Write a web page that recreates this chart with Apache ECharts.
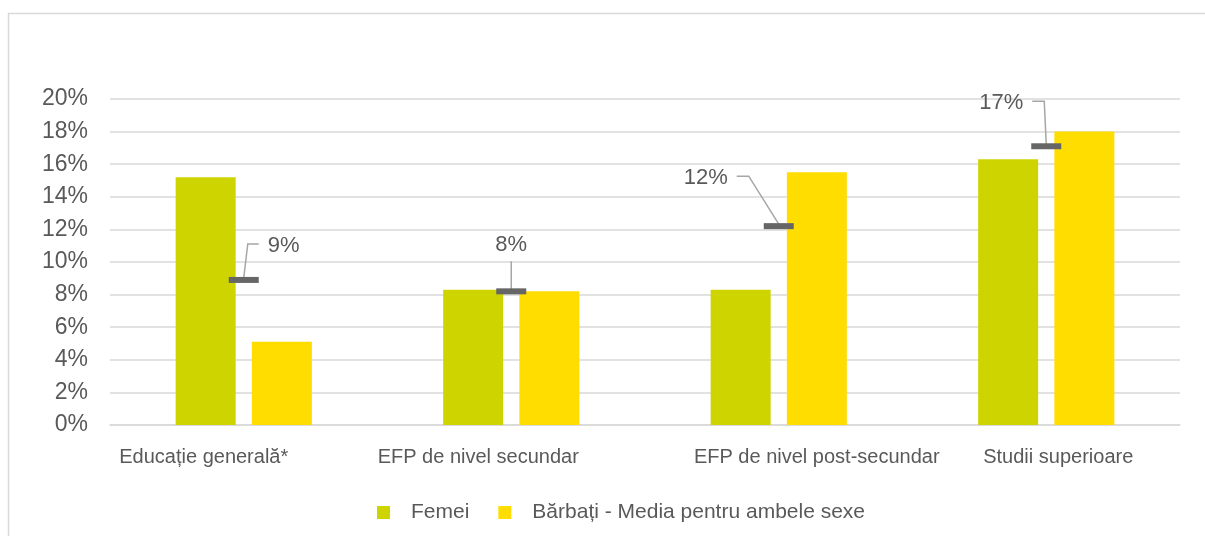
<!DOCTYPE html>
<html>
<head>
<meta charset="utf-8">
<script src="https://cdn.jsdelivr.net/npm/echarts@6/dist/echarts.min.js"></script>
<style>
  html, body { margin: 0; padding: 0; background: #fff; }
  #chart { width: 1205px; height: 536px; }
</style>
</head>
<body>
<div id="chart"></div>
<script>
// date
const categories = ['Educație generală*', 'EFP de nivel secundar', 'EFP de nivel post-secundar', 'Studii superioare']
const femei = [15.2, 8.3, 8.3, 16.3]
const barbati = [5.1, 8.2, 15.5, 18.0]
const media = [8.9, 8.2, 12.2, 17.1]
const mediaLabels = ['9%', '8%', '12%', '17%']
const yTicks = [0, 2, 4, 6, 8, 10, 12, 14, 16, 18, 20]

// label placement of the averages (pixel offsets from the marker, like dragged Excel labels)
const labelLayout = [
  { line: [[0, -2], [4, -36], [15, -36]], text: [24, -34], align: 'left' },
  { line: [[0, -2], [0, -30]], text: [0, -46], align: 'center' },
  { line: [[0, -2], [-30, -50], [-42, -50]], text: [-51, -48], align: 'right' },
  { line: [[0, -2], [-2, -45], [-14, -45]], text: [-23, -43], align: 'right' },
]
// small shifts of the category labels (Excel wraps them off-centre)
const catShift = [-40, -33, 38, 12]

const textColor = '#595959'
const font = 'Arial, "Liberation Sans", sans-serif'

const chart = echarts.init(document.getElementById('chart'))

const rich = {}
catShift.forEach((s, i) => {
  rich['c' + i] = {
    fontSize: 20,
    fontFamily: font,
    color: textColor,
    padding: s < 0 ? [0, -2 * s, 0, 0] : [0, 0, 0, 2 * s],
  }
})

const option = {
  animation: false,
  graphic: [
    {
      type: 'rect',
      left: 6,
      top: 11,
      shape: { width: 1400, height: 800 },
      style: { fill: 'none', stroke: '#d9d9d9', lineWidth: 1.5 },
      silent: true,
    },
  ],
  grid: { left: 110, right: 25, top: 99, bottom: 111 },
  legend: {
    left: 372,
    top: 497,
    itemWidth: 13,
    itemHeight: 13,
    itemGap: 29,
    icon: 'rect',
    data: ['Femei', 'Bărbați - Media pentru ambele sexe'],
    textStyle: { fontSize: 21, fontFamily: font, color: textColor, padding: [0, 0, 0, 16] },
  },
  xAxis: {
    type: 'category',
    data: categories,
    axisLine: { lineStyle: { color: '#d9d9d9', width: 1.5 } },
    axisTick: { show: false },
    axisLabel: {
      margin: 22,
      interval: 0,
      formatter: (v, i) => '{c' + i + '|' + v + '}',
      rich,
    },
  },
  yAxis: {
    type: 'value',
    min: 0,
    max: 20,
    interval: 2,
    axisLine: { show: false },
    axisTick: { show: false },
    splitLine: { lineStyle: { color: '#d9d9d9', width: 1.5 } },
    axisLabel: {
      margin: 22,
      fontSize: 23,
      fontFamily: font,
      color: textColor,
      formatter: (v) => (yTicks.includes(v) ? v + '%' : ''),
    },
  },
  series: [
    {
      name: 'Femei',
      type: 'bar',
      data: femei,
      barWidth: 60,
      barGap: '27%',
      itemStyle: { color: '#cdd400' },
    },
    {
      name: 'Bărbați - Media pentru ambele sexe',
      type: 'bar',
      data: barbati,
      barWidth: 60,
      itemStyle: { color: '#ffdd00' },
    },
    {
      name: 'Media',
      type: 'custom',
      data: media.map((v, i) => [i, v]),
      z: 10,
      renderItem: (params, api) => {
        const i = params.dataIndex
        const p = api.coord([api.value(0), api.value(1)])
        const lay = labelLayout[i]
        return {
          type: 'group',
          children: [
            {
              type: 'polyline',
              shape: { points: lay.line.map((d) => [p[0] + d[0], p[1] + d[1]]) },
              style: { stroke: '#a6a6a6', lineWidth: 1.5, fill: 'none' },
            },
            {
              type: 'rect',
              shape: { x: p[0] - 15, y: p[1] - 3, width: 30, height: 6 },
              style: { fill: '#666666' },
            },
            {
              type: 'text',
              x: p[0] + lay.text[0],
              y: p[1] + lay.text[1],
              style: {
                text: mediaLabels[i],
                fontSize: 22,
                fontFamily: font,
                fill: textColor,
                align: lay.align,
                verticalAlign: 'middle',
              },
            },
          ],
        }
      },
    },
  ],
}

chart.setOption(option)
</script>
</body>
</html>
